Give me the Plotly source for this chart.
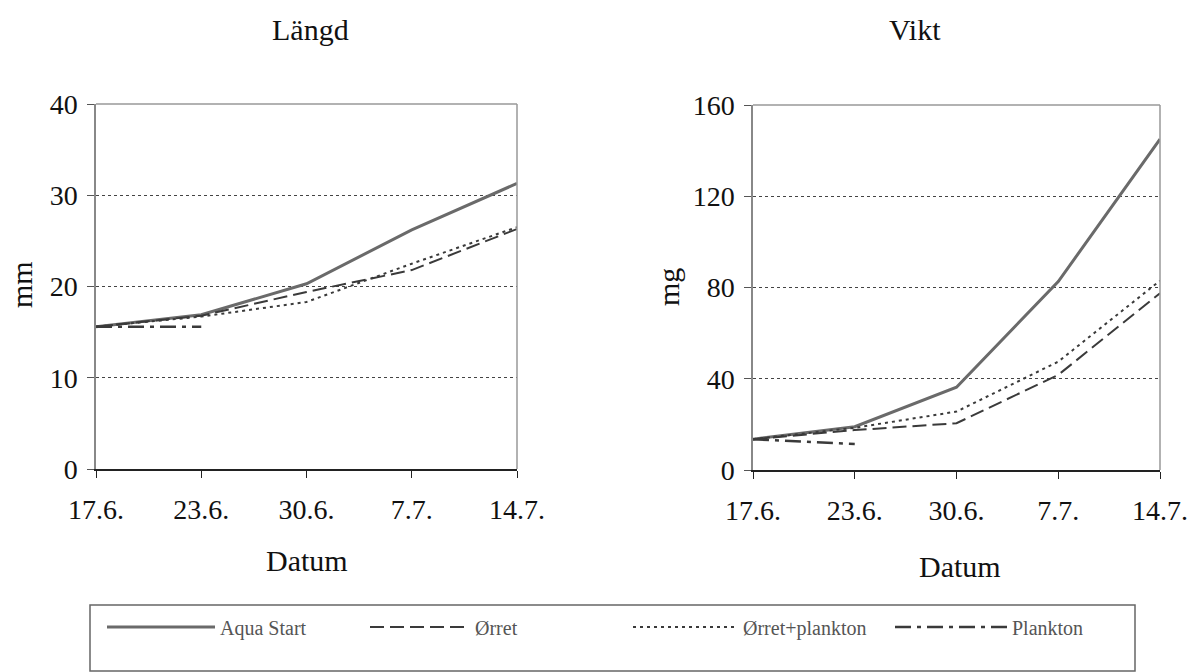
import plotly.graph_objects as go

dates = ["17.6.", "23.6.", "30.6.", "7.7.", "14.7."]

# Längd (mm)
len_aqua = [15.6, 16.9, 20.3, 26.2, 31.3]
len_orret = [15.6, 16.8, 19.4, 21.8, 26.3]
len_orret_pl = [15.6, 16.7, 18.3, 22.5, 26.5]
len_plankton = [15.6, 15.6, None, None, None]

# Vikt (mg)
wt_aqua = [13.5, 19.0, 36.3, 82.6, 145.0]
wt_orret = [13.5, 17.5, 20.5, 41.7, 77.5]
wt_orret_pl = [13.5, 18.5, 25.6, 47.5, 83.0]
wt_plankton = [13.5, 11.4, None, None, None]

series_names = ["Aqua Start", "Ørret", "Ørret+plankton", "Plankton"]
styles = [
    dict(color="#6a6a6a", width=3, dash="solid"),
    dict(color="#3a3a3a", width=2, dash="14px,6px"),
    dict(color="#3a3a3a", width=2, dash="3px,4px"),
    dict(color="#3a3a3a", width=2.5, dash="16px,6px,4px,6px"),
]

FONT = "Liberation Serif"
W, H = 1191, 672
def px(x):
    return x / W
def py(y):
    return 1 - y / H

# legend placement (px): line start and line length for each entry
leg_x = [107, 370, 633, 895]
leg_w = [108, 100, 105, 112]

fig = go.Figure()
left = [len_aqua, len_orret, len_orret_pl, len_plankton]
right = [wt_aqua, wt_orret, wt_orret_pl, wt_plankton]
legend_ids = ["legend", "legend2", "legend3", "legend4"]
for name, ys, st, lid in zip(series_names, left, styles, legend_ids):
    fig.add_trace(go.Scatter(x=dates, y=ys, name=name, mode="lines", line=st,
                             xaxis="x", yaxis="y", showlegend=True, legend=lid))
for name, ys, st in zip(series_names, right, styles):
    fig.add_trace(go.Scatter(x=dates, y=ys, name=name, mode="lines", line=st,
                             xaxis="x2", yaxis="y2", showlegend=False))

xcommon = dict(type="category", range=[0, 4], showline=True, linecolor="#222", linewidth=1.5,
               ticks="outside", ticklen=7, tickcolor="#222", showgrid=False, zeroline=False,
               ticklabelstandoff=8, automargin=False,
               tickfont=dict(family=FONT, size=28, color="#111"), fixedrange=True)
ycommon = dict(showline=True, linecolor="#888", linewidth=1.5, ticks="outside", ticklen=7,
               tickcolor="#555", showgrid=True, gridcolor="#444", griddash="dot", gridwidth=1,
               zeroline=False, ticklabelstandoff=4, automargin=False,
               tickfont=dict(family=FONT, size=28, color="#111"), fixedrange=True)

layout = dict(
    width=W, height=H,
    margin=dict(l=0, r=0, t=0, b=0, autoexpand=False),
    paper_bgcolor="white", plot_bgcolor="white",
    font=dict(family=FONT, color="#111"),
    xaxis=dict(domain=[px(96), px(517)], anchor="y", **xcommon),
    yaxis=dict(domain=[py(469), py(104)], anchor="x", range=[0, 40], dtick=10, **ycommon),
    xaxis2=dict(domain=[px(753), px(1160)], anchor="y2", **xcommon),
    yaxis2=dict(domain=[py(470), py(105)], anchor="x2", range=[0, 160], dtick=40, **ycommon),
    showlegend=True,
)
for lid, lx, lw in zip(legend_ids, leg_x, leg_w):
    layout[lid] = dict(orientation="h", x=px(lx - 5), y=py(627), xanchor="left", yanchor="middle",
                       font=dict(family=FONT, size=20, color="#555"), itemwidth=lw,
                       bgcolor="rgba(0,0,0,0)", borderwidth=0)
fig.update_layout(**layout)

shapes = []
for xa, ya in (("x", "y"), ("x2", "y2")):
    shapes.append(dict(type="line", xref=f"{xa} domain", yref=f"{ya} domain", x0=0, x1=1, y0=1, y1=1,
                       line=dict(color="#999", width=1.5)))
    shapes.append(dict(type="line", xref=f"{xa} domain", yref=f"{ya} domain", x0=1, x1=1, y0=0, y1=1,
                       line=dict(color="#999", width=1.5)))
shapes.append(dict(type="rect", xref="paper", yref="paper", x0=px(90), x1=px(1135),
                   y0=py(671), y1=py(605), line=dict(color="#666", width=1.5), fillcolor="rgba(0,0,0,0)"))
fig.update_layout(shapes=shapes)

ann = [
    dict(text="Längd", x=px(310), y=py(30), size=30),
    dict(text="Vikt", x=px(915), y=py(30), size=30),
    dict(text="Datum", x=px(307), y=py(560), size=30),
    dict(text="Datum", x=px(960), y=py(566), size=30),
    dict(text="mm", x=px(22), y=py(285), size=30, textangle=-90),
    dict(text="mg", x=px(669), y=py(287), size=30, textangle=-90),
]
annotations = []
for a in ann:
    size = a.pop("size")
    a.update(xref="paper", yref="paper", showarrow=False, xanchor="center", yanchor="middle",
             font=dict(family=FONT, color="#111", size=size))
    annotations.append(a)
fig.update_layout(annotations=annotations)

fig.write_html("out.html")
